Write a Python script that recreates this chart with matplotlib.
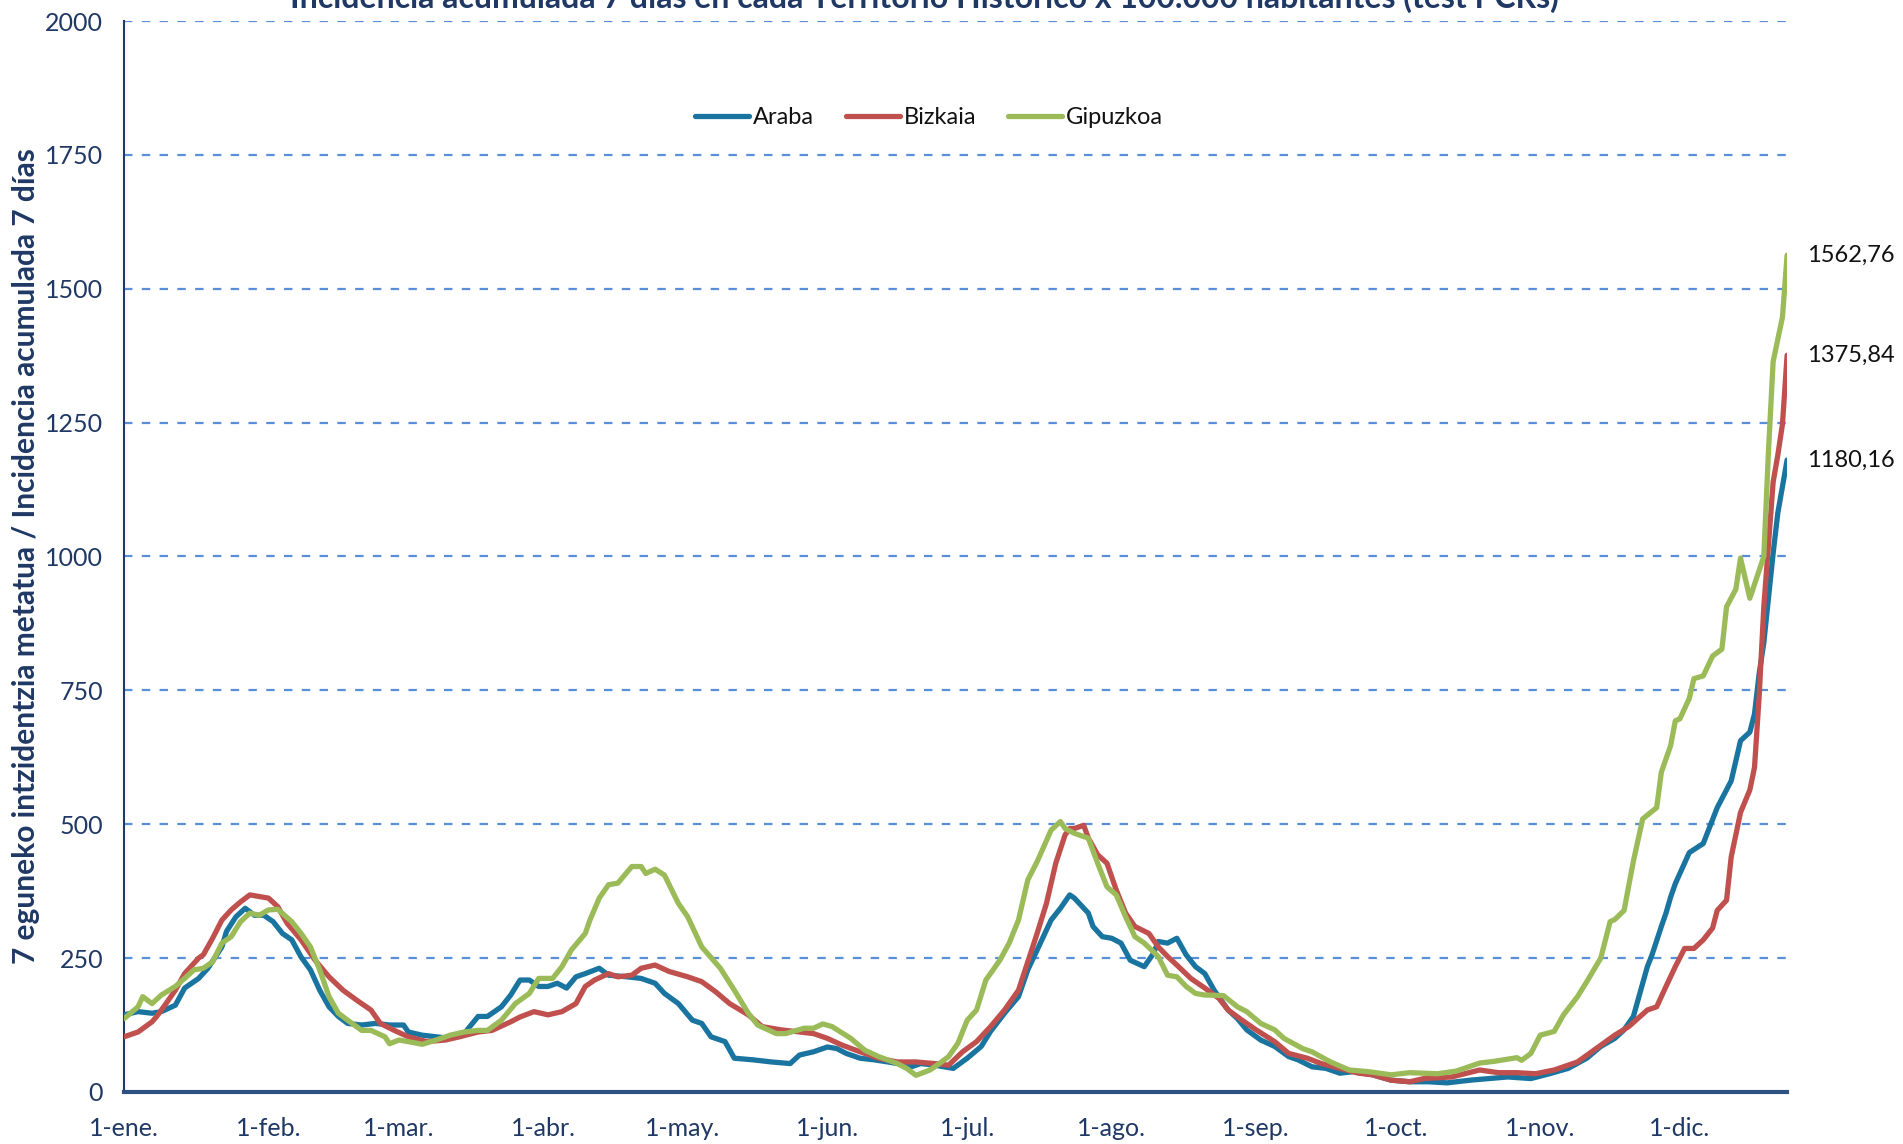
import matplotlib
matplotlib.use('Agg')
import matplotlib.pyplot as plt

# days counted from 1-ene. (day 0)
araba_day = [0, 3, 6, 8, 11, 13, 16, 18, 21, 22, 24, 26, 28, 30, 32, 34, 36, 38, 40, 42, 44, 46, 48, 51, 54, 57, 60,
             61, 64, 67, 70, 73, 76, 78, 81, 83, 85, 87, 89, 91, 93, 95, 97, 99, 102, 104, 108, 111, 114, 116, 119,
             122, 124, 126, 129, 131, 135, 139, 143, 145, 148, 151, 153, 155, 158, 161, 164, 166, 169, 171, 174,
             178, 181, 184, 186, 189, 192, 194, 196, 199, 201, 203, 204, 207, 208, 210, 212, 214, 216, 219, 221,
             222, 224, 226, 228, 230, 232, 234, 237, 239, 241, 244, 247, 250, 252, 255, 258, 261, 264, 268, 272,
             276, 280, 284, 289, 293, 297, 302, 306, 310, 314, 317, 320, 322, 324, 325, 327, 328, 330, 331, 332,
             333, 336, 339, 342, 345, 347, 349, 350, 351, 352, 354, 355, 357]
araba_val = [144, 150, 147, 150, 162, 194, 212, 231, 271, 300, 327, 343, 330, 330, 318, 296, 284, 252, 228, 190, 159,
             141, 128, 125, 128, 125, 125, 112, 106, 103, 100, 109, 141, 141, 159, 181, 209, 209, 197, 197, 203, 194,
             215, 221, 231, 218, 215, 212, 203, 184, 165, 134, 128, 103, 94, 63, 60, 56, 53, 69, 75, 84, 81, 72, 63,
             60, 56, 53, 47, 53, 50, 44, 63, 85, 113, 147, 178, 228, 265, 321, 343, 368, 362, 334, 309, 290, 287,
             278, 246, 234, 259, 281, 278, 287, 256, 234, 221, 190, 153, 137, 116, 97, 85, 66, 60, 47, 44, 35, 38,
             32, 22, 19, 19, 17, 22, 25, 28, 25, 34, 44, 63, 85, 100, 116, 141, 172, 234, 256, 309, 334, 364, 389,
             447, 464, 531, 581, 656, 672, 706, 781, 839, 1006, 1081, 1180.16]

bizkaia_day = [0, 3, 6, 7, 9, 11, 13, 16, 17, 19, 21, 23, 25, 27, 29, 31, 33, 35, 38, 41, 44, 47, 50, 53, 55, 58, 61,
               65, 69, 72, 76, 79, 83, 85, 88, 91, 94, 97, 99, 101, 104, 106, 109, 111, 114, 117, 121, 124, 127,
               130, 134, 137, 141, 144, 148, 151, 154, 158, 162, 166, 170, 174, 177, 180, 183, 186, 189, 192, 194,
               196, 198, 200, 202, 203, 204, 206, 207, 209, 211, 213, 215, 217, 220, 222, 224, 226, 229, 232, 235,
               237, 240, 243, 247, 250, 254, 257, 261, 265, 268, 272, 276, 279, 285, 291, 295, 299, 303, 307, 312,
               316, 320, 323, 327, 329, 331, 333, 335, 337, 339, 341, 342, 344, 345, 347, 349, 350, 351, 352, 354,
               355, 356, 357]
bizkaia_val = [103, 112, 131, 141, 165, 190, 221, 250, 256, 287, 321, 340, 355, 368, 365, 362, 346, 315, 284, 246,
               215, 190, 171, 153, 128, 115, 103, 94, 97, 103, 112, 115, 131, 140, 150, 144, 150, 165, 197, 209,
               221, 215, 218, 231, 237, 225, 215, 206, 187, 165, 144, 122, 116, 113, 109, 100, 88, 75, 63, 56, 56,
               53, 50, 75, 94, 122, 153, 190, 243, 296, 352, 427, 480, 492, 492, 498, 474, 443, 427, 377, 334, 309,
               296, 271, 253, 237, 212, 194, 175, 153, 134, 116, 94, 72, 63, 53, 44, 35, 32, 22, 19, 25, 28, 41, 36,
               36, 34, 41, 56, 81, 106, 122, 153, 159, 197, 234, 268, 268, 284, 306, 339, 358, 439, 522, 564, 606,
               739, 906, 1139, 1189, 1247, 1375.84]

gipuzkoa_day = [0, 3, 4, 6, 8, 11, 13, 15, 17, 19, 21, 23, 25, 27, 29, 31, 33, 36, 38, 40, 42, 44, 46, 48, 51, 53,
                56, 57, 59, 61, 64, 67, 70, 73, 76, 78, 81, 84, 87, 89, 92, 94, 96, 99, 100, 102, 104, 106, 109,
                111, 112, 114, 116, 119, 121, 124, 128, 131, 134, 136, 140, 142, 146, 148, 150, 152, 156, 159, 162,
                166, 168, 170, 173, 175, 177, 179, 181, 183, 185, 188, 190, 192, 194, 196, 199, 201, 202, 204, 207,
                209, 211, 213, 215, 217, 219, 222, 224, 226, 228, 230, 232, 236, 239, 241, 244, 247, 249, 253, 255,
                259, 263, 267, 272, 276, 282, 286, 291, 294, 299, 300, 302, 304, 307, 309, 312, 314, 317, 318, 319,
                320, 322, 324, 326, 329, 330, 332, 333, 334, 336, 337, 339, 341, 343, 344, 346, 347, 349, 352, 353,
                354, 356, 357]
gipuzkoa_val = [137, 159, 178, 165, 181, 197, 212, 228, 231, 243, 278, 290, 318, 334, 330, 340, 341, 318, 296, 271,
                228, 178, 147, 134, 115, 115, 103, 90, 97, 94, 89, 97, 106, 112, 115, 115, 134, 165, 184, 212, 212,
                234, 265, 296, 321, 362, 387, 390, 421, 421, 408, 416, 405, 352, 327, 271, 231, 190, 147, 125, 109,
                109, 119, 119, 127, 122, 100, 78, 66, 53, 44, 31, 41, 53, 66, 91, 134, 153, 209, 246, 278, 321, 396,
                430, 489, 505, 492, 483, 474, 427, 383, 368, 327, 290, 278, 253, 218, 215, 197, 184, 181, 180, 159,
                150, 128, 116, 100, 81, 75, 56, 41, 38, 32, 36, 34, 39, 54, 57, 64, 59, 72, 106, 113, 144, 178, 206,
                250, 284, 318, 322, 339, 431, 510, 531, 597, 647, 693, 697, 735, 772, 777, 814, 827, 906, 939, 997,
                922, 1000, 1197, 1364, 1447, 1562.76]

month_days = [0, 31, 59, 90, 120, 151, 181, 212, 243, 273, 304, 334]
month_labels = ['1-ene.', '1-feb.', '1-mar.', '1-abr.', '1-may.', '1-jun.',
                '1-jul.', '1-ago.', '1-sep.', '1-oct.', '1-nov.', '1-dic.']
y_ticks = [0, 250, 500, 750, 1000, 1250, 1500, 1750, 2000]

navy = '#1F3864'
fam = ['Lato', 'DejaVu Sans']

fig = plt.figure(figsize=(19.03, 11.44), dpi=100)
ax = fig.add_axes([0.0652, 0.0455, 0.8739, 0.9361])

for y in y_ticks[1:]:
    ax.axhline(y, color='#5B8ED8', linewidth=1.6, linestyle=(0, (3.8, 4.2)), zorder=1)

series = [
    ('Araba', araba_day, araba_val, '#1A74A0'),
    ('Bizkaia', bizkaia_day, bizkaia_val, '#C0504D'),
    ('Gipuzkoa', gipuzkoa_day, gipuzkoa_val, '#9BBB59'),
]
for name, d, v, c in series:
    ax.plot(d, v, color=c, linewidth=3.8, label=name, zorder=3,
            solid_joinstyle='round', solid_capstyle='round')
    ax.annotate('{:.2f}'.format(v[-1]).replace('.', ','), xy=(d[-1], v[-1]),
                xytext=(14, 0), textcoords='offset points', va='center', ha='left',
                fontsize=17, family=fam, color='#111111', annotation_clip=False)

ax.set_xlim(0, 357)
ax.set_ylim(0, 2000)
ax.set_xticks(month_days)
ax.set_xticklabels(month_labels)
ax.set_yticks(y_ticks)
ax.tick_params(axis='both', length=0, colors=navy, labelsize=18)
ax.tick_params(axis='x', pad=18)
ax.tick_params(axis='y', pad=15)
for lab in ax.get_xticklabels() + ax.get_yticklabels():
    lab.set_family(fam)

for s in ['top', 'right']:
    ax.spines[s].set_visible(False)
ax.spines['left'].set_color(navy)
ax.spines['left'].set_linewidth(1.5)
ax.spines['bottom'].set_color('#2F5283')
ax.spines['bottom'].set_linewidth(3)

ax.set_ylabel('7 eguneko intzidentzia metatua / Incidencia acumulada 7 días',
              fontsize=21.5, fontweight='bold', color=navy, family=fam, labelpad=4)

leg = ax.legend(loc='center', bbox_to_anchor=(0.484, 0.91), ncol=3, frameon=False,
                handlelength=2.3, columnspacing=1.35, handletextpad=0.15,
                prop={'family': fam, 'size': 17})
for t in leg.get_texts():
    t.set_color('#111111')

fig.text(0.4856, 1 - 8 / 1144, 'Incidencia acumulada 7 días en cada Territorio Histórico x 100.000 habitantes (test PCRs)',
         ha='center', va='baseline', fontsize=23, fontweight='bold', color=navy, family=fam)

fig.savefig('out.png', dpi=100)
